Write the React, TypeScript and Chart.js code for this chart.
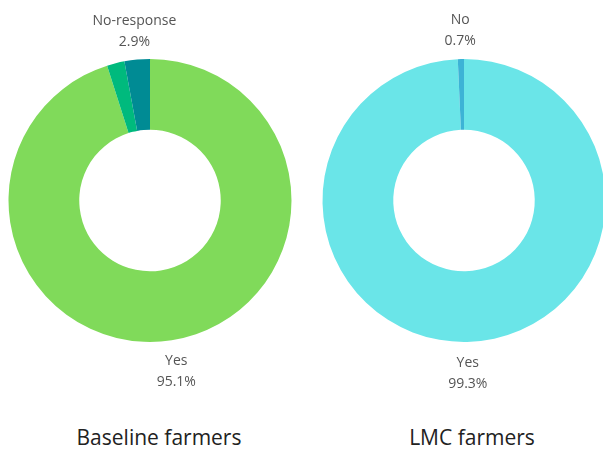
import React, { useEffect, useRef } from "react";
import { Chart, registerables } from "chart.js";

Chart.register(...registerables);

// Baseline farmers
const baselineLabels = ["Yes", "No", "No-response"];
const baselineValues = [95.1, 2.0, 2.9];
const baselineColors = ["#80DA5A", "#00BA7D", "#008B94"];
const baselineShown = [true, false, true];

// LMC farmers
const lmcLabels = ["Yes", "No"];
const lmcValues = [99.3, 0.7];
const lmcColors = ["#6AE5E8", "#3DB3D6"];
const lmcShown = [true, true];

const FONT = "'Open Sans', sans-serif";

// Draws "label / value%" outside each visible slice, along its mid-angle.
const outsideLabels = {
  id: "outsideLabels",
  afterDatasetsDraw(chart: any, _args: any, opts: any) {
    const { ctx } = chart;
    const meta = chart.getDatasetMeta(0);
    const data = chart.data.datasets[0].data as number[];
    const labels = chart.data.labels as string[];
    const shown: boolean[] = opts.shown || [];
    ctx.save();
    ctx.font = `14px ${FONT}`;
    ctx.fillStyle = "#555555";
    ctx.textAlign = "center";
    ctx.textBaseline = "middle";
    meta.data.forEach((arc: any, i: number) => {
      if (!shown[i]) return;
      const p = arc.getProps(["x", "y", "startAngle", "endAngle", "outerRadius"], true);
      const mid = (p.startAngle + p.endAngle) / 2;
      const d = p.outerRadius + 30;
      const x = p.x + Math.cos(mid) * d;
      const y = p.y + Math.sin(mid) * d + 1.5;
      ctx.fillText(labels[i], x, y - 10.5);
      ctx.fillText(`${data[i].toFixed(1)}%`, x, y + 10.5);
    });
    ctx.restore();
  },
};

function Doughnut({
  labels,
  values,
  colors,
  shown,
}: {
  labels: string[];
  values: number[];
  colors: string[];
  shown: boolean[];
}) {
  const ref = useRef<HTMLCanvasElement>(null);
  useEffect(() => {
    if (!ref.current) return;
    const chart = new Chart(ref.current, {
      type: "doughnut",
      data: {
        labels,
        datasets: [
          {
            data: values,
            backgroundColor: colors,
            borderWidth: 0,
          },
        ],
      },
      options: {
        animation: false,
        responsive: false,
        cutout: "50%",
        layout: { padding: { left: 8, right: 8, top: 59, bottom: 58 } },
        plugins: {
          legend: { display: false },
          tooltip: { enabled: false },
          outsideLabels: { shown },
        } as any,
      },
      plugins: [outsideLabels],
    });
    return () => chart.destroy();
  }, []);
  return <canvas ref={ref} width={300} height={400} style={{ width: 300, height: 400 }} />;
}

const titleStyle: React.CSSProperties = {
  position: "absolute",
  top: 423,
  width: 300,
  textAlign: "center",
  fontFamily: FONT,
  fontSize: 21,
  color: "#222222",
  lineHeight: "28px",
};

export default function App() {
  return (
    <div
      style={{
        position: "fixed",
        left: 0,
        top: 0,
        width: 603,
        height: 449,
        overflow: "hidden",
        background: "#ffffff",
      }}
    >
      <div style={{ position: "absolute", left: 0, top: 0 }}>
        <Doughnut labels={baselineLabels} values={baselineValues} colors={baselineColors} shown={baselineShown} />
      </div>
      <div style={{ position: "absolute", left: 314, top: 0 }}>
        <Doughnut labels={lmcLabels} values={lmcValues} colors={lmcColors} shown={lmcShown} />
      </div>
      <div style={{ ...titleStyle, left: 9 }}>Baseline farmers</div>
      <div style={{ ...titleStyle, left: 322 }}>LMC farmers</div>
    </div>
  );
}
